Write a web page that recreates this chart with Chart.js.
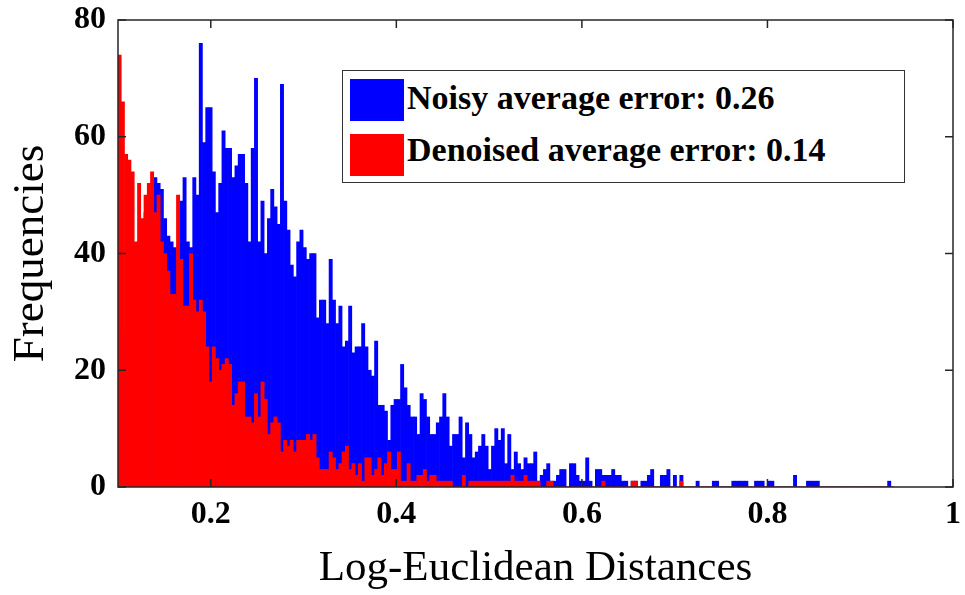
<!DOCTYPE html>
<html>
<head>
<meta charset="utf-8">
<script src="https://cdn.jsdelivr.net/npm/chart.js@4"></script>
<style>
  body { margin: 0; background: #fff; }
  #wrap { position: relative; width: 965px; height: 595px; }
  #legend {
    position: absolute; left: 342px; top: 70px; width: 561px; height: 111px;
    border: 1.5px solid #333; background: #fff;
    font-family: "Liberation Serif", "Times New Roman", serif; font-weight: bold; font-size: 34px;
  }
  .sw { position: absolute; left: 7px; width: 54px; height: 42px; }
  .lt { position: absolute; left: 64px; line-height: 34px; white-space: nowrap; color: #000; }
</style>
</head>
<body>
<div id="wrap">
  <canvas id="hist" width="965" height="595"></canvas>
  <div id="legend">
    <div class="sw" style="top:8px;background:#0000ff"></div>
    <div class="lt" style="top:10px">Noisy average error: 0.26</div>
    <div class="sw" style="top:63px;background:#ff0000"></div>
    <div class="lt" style="top:62px">Denoised average error: 0.14</div>
  </div>
</div>
<script>
// histogram bins: first edge and width
const binStart = 0.1;
const binWidth = 0.0035;

const noisyCounts = [
  25, 26, 24, 38, 40, 39, 42, 45, 47, 48, 50,
  53, 52, 51, 46, 43, 42, 41, 39, 49, 53,
  42, 41, 53, 50, 76, 59, 65, 65, 54, 47,
  52, 61, 58, 58, 53, 55, 57, 57, 52, 42,
  58, 70, 42, 49, 40, 46, 51, 48, 45, 69,
  49, 44, 38, 36, 42, 44, 41, 39, 40, 40,
  29, 32, 32, 28, 39, 32, 28, 31, 24, 25,
  31, 23, 24, 24, 28, 24, 20, 19, 25, 14,
  14, 13, 8, 14, 15, 15, 21, 17, 14, 12,
  12, 9, 16, 15, 12, 9, 9, 11, 12, 16,
  12, 7, 9, 9, 12, 5, 11, 9, 5, 6,
  7, 9, 7, 3, 7, 10, 8, 10, 4, 9,
  3, 6, 4, 3, 5, 4, 4, 6, 1, 2,
  3, 4, 1, 1, 2, 3, 3, 0, 4, 4,
  2, 1, 1, 5, 1, 0, 3, 3, 2, 2,
  2, 3, 2, 2, 1, 1, 0, 1, 1, 0,
  1, 1, 2, 3, 0, 0, 2, 2, 3, 0,
  2, 0, 2, 0, 0, 0, 0, 1, 0, 0,
  0, 0, 1, 1, 0, 0, 0, 0, 1, 1,
  1, 1, 1, 0, 0, 1, 1, 1, 0, 1,
  1, 0, 0, 0, 0, 0, 0, 2, 0, 0,
  0, 1, 1, 1, 1, 0, 0, 0, 0, 0,
  0, 0, 0, 0, 0, 0, 0, 0, 0, 0,
  0, 0, 0, 0, 0, 0, 1, 0
];

const denoisedCounts = [
  74, 66, 57, 56, 54, 42, 52, 46, 50, 52, 54,
  47, 50, 42, 40, 37, 33, 33, 50, 39, 31,
  31, 40, 32, 30, 32, 30, 24, 18, 24, 22,
  20, 21, 22, 21, 14, 16, 18, 18, 12, 12,
  11, 16, 12, 18, 15, 9, 11, 12, 11, 6,
  8, 7, 8, 6, 8, 8, 8, 9, 8, 9,
  5, 3, 3, 3, 6, 5, 3, 4, 6, 7,
  3, 4, 2, 4, 1, 5, 5, 2, 3, 5,
  2, 4, 6, 3, 3, 6, 1, 1, 4, 1,
  1, 2, 2, 3, 1, 2, 2, 1, 1, 1,
  1, 1, 0, 0, 0, 2, 0, 1, 1, 1,
  1, 1, 1, 1, 1, 1, 1, 1, 1, 1,
  2, 1, 1, 1, 2, 1, 1, 1, 1, 0,
  0, 1, 1, 0, 0, 0, 0, 0, 0, 0,
  0, 0, 0, 0, 0, 0, 0, 0, 1, 0,
  0, 0, 0, 0, 0, 0, 0, 1, 1, 0,
  0, 0, 0, 0, 0, 0, 0, 0, 0, 0,
  0, 0, 1, 0, 0, 0, 0, 0, 0, 0,
  0, 0, 0, 0, 0, 0, 0, 0, 0, 0,
  0, 0, 0, 0, 0, 0, 0, 0, 0, 0,
  0, 0, 0, 0, 0, 0, 0, 0, 0, 0,
  0, 0, 0, 0, 0, 0, 0, 0, 0, 0,
  0, 0, 0, 0, 0, 0, 0, 0, 0, 0,
  0, 0, 0, 0, 0, 0, 0, 0
];

const xTicks = [0.2, 0.4, 0.6, 0.8, 1];
const yTicks = [0, 20, 40, 60, 80];

const binCenters = noisyCounts.map((_, i) => binStart + binWidth * (i + 0.5));
const toPoints = (counts) => counts.map((c, i) => ({ x: binCenters[i], y: c }));

const serif = '"Liberation Serif", "Times New Roman", serif';

// MATLAB style box with inward ticks
const boxTicks = {
  id: "boxTicks",
  afterDatasetsDraw(chart) {
    const { ctx, chartArea: a, scales } = chart;
    ctx.save();
    ctx.strokeStyle = "#262626";
    ctx.lineWidth = 1.5;
    ctx.strokeRect(a.left, a.top, a.right - a.left, a.bottom - a.top);
    ctx.beginPath();
    xTicks.forEach(function (v) {
      const px = scales.x.getPixelForValue(v);
      ctx.moveTo(px, a.bottom); ctx.lineTo(px, a.bottom - 8);
      ctx.moveTo(px, a.top); ctx.lineTo(px, a.top + 8);
    });
    yTicks.forEach(function (v) {
      const py = scales.y.getPixelForValue(v);
      ctx.moveTo(a.left, py); ctx.lineTo(a.left + 8, py);
      ctx.moveTo(a.right, py); ctx.lineTo(a.right - 8, py);
    });
    ctx.stroke();
    ctx.restore();
  },
};

new Chart(document.getElementById("hist"), {
  type: "bar",
  data: {
    datasets: [
      {
        label: "Denoised average error: 0.14",
        data: toPoints(denoisedCounts),
        backgroundColor: "#ff0000",
        order: 0,
      },
      {
        label: "Noisy average error: 0.26",
        data: toPoints(noisyCounts),
        backgroundColor: "#0000ff",
        order: 1,
      },
    ],
  },
  options: {
    responsive: false,
    animation: false,
    layout: { padding: { left: 0, right: 12, top: 20, bottom: 0 } },
    datasets: { bar: { grouped: false, barPercentage: 1, categoryPercentage: 1 } },
    plugins: { legend: { display: false }, tooltip: { enabled: false } },
    scales: {
      x: {
        type: "linear",
        min: 0.1,
        max: 1,
        offset: false,
        grid: { display: false, drawTicks: false },
        border: { display: false },
        afterBuildTicks: (s) => { s.ticks = xTicks.map((v) => ({ value: v })); },
        afterFit: (s) => { s.height = 108; s.paddingLeft = 0; s.paddingRight = 0; },
        ticks: {
          padding: 9,
          color: "#000",
          font: { family: serif, size: 32, weight: "bold" },
          callback: (v) => String(v),
        },
        title: {
          display: true,
          text: "Log-Euclidean Distances",
          color: "#000",
          font: { family: serif, size: 43 },
          padding: { bottom: 0, top: 0 },
        },
      },
      y: {
        min: 0,
        max: 80,
        grid: { display: false, drawTicks: false },
        border: { display: false },
        afterBuildTicks: (s) => { s.ticks = yTicks.map((v) => ({ value: v })); },
        afterFit: (s) => { s.width = 118; s.paddingTop = 0; s.paddingBottom = 0; },
        ticks: {
          padding: 12,
          color: "#000",
          font: { family: serif, size: 32, weight: "bold" },
        },
        title: {
          display: true,
          text: "Frequencies",
          color: "#000",
          font: { family: serif, size: 45 },
          padding: { top: 4, bottom: 0 },
        },
      },
    },
  },
  plugins: [boxTicks],
});
</script>
</body>
</html>
